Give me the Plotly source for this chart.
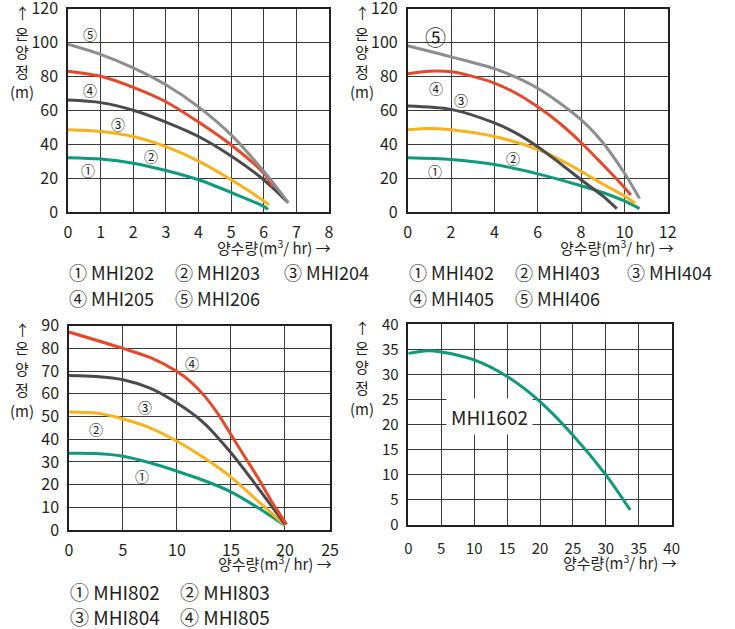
import plotly.graph_objects as go

FONT = "Noto Sans CJK KR"
TXT = "#231f20"
W, H = 735, 629

# ---------------- data ----------------
# Panel 1 : MHI20x
p1_x5 = [0, 1, 2, 3, 4, 5, 6, 6.75]
p1_y5 = [99, 93, 85, 75, 62, 45.5, 24, 5.5]
p1_x4 = [0, 1, 2, 3, 4, 5, 6, 6.28]
p1_y4 = [83, 80, 73.5, 65, 53, 39.5, 23, 15]
p1_x3 = [0, 1, 2, 3, 4, 5, 6, 6.75]
p1_y3 = [66, 64.5, 60, 53, 44.5, 33, 19, 5.5]
p1_x2 = [0, 1, 2, 3, 4, 5, 6, 6.16]
p1_y2 = [48.5, 47.5, 44.5, 38.5, 30, 19, 6.5, 4]
p1_x1 = [0, 1, 2, 3, 4, 5, 6, 6.13]
p1_y1 = [32, 31.2, 28.8, 24.5, 19, 11.5, 3.3, 1.5]

# Panel 2 : MHI40x
p2_x5 = [0, 2, 4, 6, 8, 9, 10, 10.7]
p2_y5 = [98, 91.5, 84.5, 73, 54.5, 41, 23, 8]
p2_x4 = [0, 1, 2, 3, 4, 5, 6, 7, 8, 9, 10, 10.3]
p2_y4 = [81.5, 83, 82.7, 80, 76, 70, 62, 52.5, 41, 28, 14.5, 10]
p2_x3 = [0, 2, 4, 5, 6, 7, 8, 9, 9.65]
p2_y3 = [62.5, 60.5, 52.5, 46.5, 38.5, 29, 19, 9.5, 2]
p2_x2 = [0, 1, 2, 4, 6, 7, 8, 9, 10, 10.5]
p2_y2 = [48.5, 49.3, 48.5, 44.5, 37, 31, 24, 16.5, 9.5, 5]
p2_x1 = [0, 2, 4, 6, 8, 9, 10, 10.7]
p2_y1 = [32, 31, 28, 22.5, 15.5, 11.5, 6.5, 2]

# Panel 3 : MHI80x
p3_x4 = [0, 5, 7.5, 10, 11.25, 12.5, 13.75, 15, 16.25, 17.5, 18.75, 20.15]
p3_y4 = [87.2, 80, 76, 69.8, 65.4, 59.3, 51.5, 42, 32.5, 23, 12.7, 2.5]
p3_x3 = [0, 2.5, 5, 7.5, 10, 12.5, 15, 17.5, 20]
p3_y3 = [68.1, 67.6, 66.2, 62.5, 55.9, 47.1, 34, 18.6, 2.5]
p3_x2 = [0, 2.5, 5, 7.5, 10, 12.5, 15, 17.5, 20]
p3_y2 = [52, 51.5, 48.9, 45, 39.1, 31.8, 23.3, 12.7, 2.2]
p3_x1 = [0, 2.5, 5, 7.5, 10, 12.5, 15, 17.5, 20]
p3_y1 = [33.8, 33.7, 32.5, 29.6, 25.9, 21.8, 16.8, 9.8, 2]

# Panel 4 : MHI1602
p4_x = [0, 2.5, 5, 10, 15, 20, 25, 30, 33.7]
p4_y = [34.2, 34.7, 34.5, 32.9, 29.6, 24.6, 17.9, 10, 3]

# tick labels
p1_xticks = [0, 1, 2, 3, 4, 5, 6, 7, 8]
p1_yticks = [0, 20, 40, 60, 80, 100, 120]
p2_xticks = [0, 2, 4, 6, 8, 10, 12]
p2_yticks = [0, 20, 40, 60, 80, 100, 120]
p3_xticks = [0, 5, 10, 15, 20, 24.17]
p3_xtext = ["0", "5", "10", "15", "20", "25"]
p3_yticks = [0, 10, 20, 30, 40, 50, 60, 70, 80, 90]
p4_xticks = [0, 5, 10, 15, 20, 25, 30, 35, 40]
p4_yticks = [0, 5, 10, 15, 20, 25, 30, 35, 40]

legend1 = [["① MHI202", "② MHI203", "③ MHI204"], ["④ MHI205", "⑤ MHI206"]]
legend2 = [["① MHI402", "② MHI403", "③ MHI404"], ["④ MHI405", "⑤ MHI406"]]
legend3 = [["① MHI802", "② MHI803"], ["③ MHI804", "④ MHI805"]]

C_GRAY = "#8e8e8e"
C_RED = "#e8482a"
C_DARK = "#4b4b4d"
C_ORANGE = "#f8b21c"
C_TEAL = "#0e9a7c"

fig = go.Figure()


def add(x, y, color, ax):
    fig.add_trace(go.Scatter(x=x, y=y, mode="lines",
                             line=dict(color=color, width=3, shape="spline", smoothing=0.8),
                             xaxis="x" + ax, yaxis="y" + ax, showlegend=False,
                             hoverinfo="skip"))


add(p1_x1, p1_y1, C_TEAL, "")
add(p1_x2, p1_y2, C_ORANGE, "")
add(p1_x3, p1_y3, C_DARK, "")
add(p1_x4, p1_y4, C_RED, "")
add(p1_x5, p1_y5, C_GRAY, "")

add(p2_x1, p2_y1, C_TEAL, "2")
add(p2_x2, p2_y2, C_ORANGE, "2")
add(p2_x3, p2_y3, C_DARK, "2")
add(p2_x4, p2_y4, C_RED, "2")
add(p2_x5, p2_y5, C_GRAY, "2")

add(p3_x1, p3_y1, C_TEAL, "3")
add(p3_x2, p3_y2, C_ORANGE, "3")
add(p3_x3, p3_y3, C_DARK, "3")
add(p3_x4, p3_y4, C_RED, "3")

add(p4_x, p4_y, C_TEAL, "4")


def xd(l, r):
    return [l / W, r / W]


def yd(top, bottom):
    return [1 - bottom / H, 1 - top / H]


def axis(domain, rng, tickvals, ticktext=None, size=16, anchor=None, standoff=5):
    d = dict(domain=domain, range=rng, tickvals=tickvals, automargin=False,
             showgrid=True, gridcolor="#3a3a3a", gridwidth=1,
             showline=True, linecolor=TXT, linewidth=1.5, mirror=True,
             zeroline=False, ticks="", ticklabelstandoff=standoff,
             ticklabeloverflow="allow",
             tickfont=dict(family=FONT, size=size, color=TXT),
             fixedrange=True, anchor=anchor)
    if ticktext is not None:
        d["ticktext"] = ticktext
    return d


layout = dict(
    width=W, height=H, margin=dict(l=0, r=0, t=0, b=0, autoexpand=False),
    paper_bgcolor="white", plot_bgcolor="white",
    font=dict(family=FONT, color=TXT),
    xaxis=axis(xd(68, 329), [0, 8], p1_xticks, anchor="y"),
    yaxis=axis(yd(8.5, 212), [0, 120], p1_yticks, anchor="x"),
    xaxis2=axis(xd(407.7, 667.7), [0, 12], p2_xticks, anchor="y2"),
    yaxis2=axis(yd(8.5, 212), [0, 120], p2_yticks, anchor="x2"),
    xaxis3=axis(xd(69, 330), [0, 24.17], p3_xticks, p3_xtext, anchor="y3"),
    yaxis3=axis(yd(325.7, 530), [0, 90], p3_yticks, anchor="x3"),
    xaxis4=axis(xd(408.3, 671.7), [0, 40], p4_xticks, size=15, anchor="y4", standoff=9),
    yaxis4=axis(yd(324.3, 525), [0, 40], p4_yticks, size=15, anchor="x4"),
)
fig.update_layout(**layout)

ann = []


def lab(x, y, text, ax, size=14):
    ann.append(dict(x=x, y=y, xref="x" + ax, yref="y" + ax, text=text, showarrow=False,
                    font=dict(family=FONT, size=size, color=TXT),
                    xanchor="center", yanchor="middle"))


# curve labels
lab(0.66, 105, "⑤", "")
lab(0.66, 72, "④", "")
lab(1.53, 52, "③", "")
lab(2.53, 33, "②", "")
lab(0.61, 24.5, "①", "")

lab(1.3, 104, "⑤", "2", size=21)
lab(1.3, 73, "④", "2")
lab(2.46, 66, "③", "2")
lab(4.85, 32, "②", "2")
lab(1.26, 24, "①", "2")

lab(11.4, 73.5, "④", "3")
lab(7.0, 54, "③", "3")
lab(2.5, 44.7, "②", "3")
lab(6.75, 23.7, "①", "3")

ann.append(dict(x=12.4, y=21.7, xref="x4", yref="y4", text="MHI1602", showarrow=False,
                font=dict(family=FONT, size=19, color=TXT), bgcolor="white",
                borderpad=4, xanchor="center", yanchor="middle"))


def px(x, y, text, size=15, xanchor="center"):
    ann.append(dict(x=x / W, y=1 - y / H, xref="paper", yref="paper",
                    text=text, showarrow=False,
                    font=dict(family=FONT, size=size, color=TXT),
                    xanchor=xanchor, yanchor="middle"))


# y axis titles (vertical stacked)
for dx, ys in [(0, [12, 33, 51, 71, 92]), (340, [12, 33, 51, 71, 92]),
               (0, [329, 348, 368, 389, 410]), (340, [327, 347, 366, 387, 408])]:
    for t, yy in zip(["↑", "온", "양", "정", "(m)"], ys):
        px(22 + dx, yy, t)

# x axis titles
xt = "양수량(m<sup>3</sup>/ hr) →"
px(333, 247, xt, xanchor="right")
px(676, 247, xt, xanchor="right")
px(334, 563, xt, xanchor="right")
px(679, 562, xt, xanchor="right")

# legends
for rows, xs, ys, size in [(legend1, [67, 173, 282], [272, 298], 18),
                           (legend2, [407, 513, 625], [272, 298], 18),
                           (legend3, [68, 178], [591, 616], 19)]:
    for row, yy in zip(rows, ys):
        for t, xx in zip(row, xs):
            px(xx, yy, t, size=size, xanchor="left")

fig.update_layout(annotations=ann)
fig.write_html("out.html", config={"displayModeBar": False},
               post_script="document.body.style.margin='0px';")
